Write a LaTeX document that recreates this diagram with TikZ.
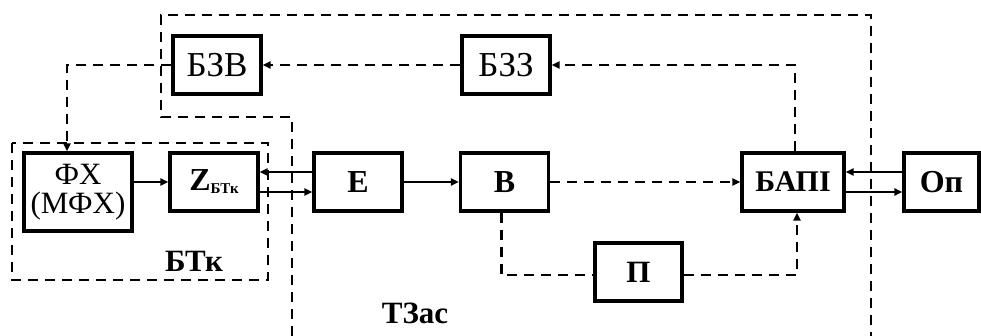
\documentclass[tikz,border=0pt]{standalone}
\usepackage{fontspec}
\setmainfont{Liberation Serif}
\usetikzlibrary{arrows.meta}
\begin{document}
\begin{tikzpicture}[x=1pt,y=-1pt,
  blk/.style={draw, line width=3.1pt, minimum width=88pt, minimum height=58pt, inner sep=0pt, align=center},
  dsh/.style={line width=2.5pt, dash pattern=on 10pt off 7pt},
  arr/.style={line width=2.1pt, -{Triangle[length=8pt,width=7pt]}},
  darr/.style={dsh, -{Triangle[length=8pt,width=7pt]}},
  txtn/.style={font=\fontsize{35}{35}\selectfont},
  txtb/.style={font=\fontsize{32}{32}\selectfont\bfseries}]
\useasboundingbox (0,0) rectangle (981,336);
% dashed boundaries
\draw[dsh] (12,143) rectangle (268,280);
\draw[dsh] (292,336) -- (292,117) -- (161,117) -- (161,15) -- (871,15) -- (871,336);
% blocks
\node[blk, txtn] (bzv) at (217,65) {БЗВ};
\node[blk, txtn] (bzz) at (506,65) {БЗЗ};
\node[blk, font=\fontsize{31}{29}\selectfont, minimum width=108pt, minimum height=78pt] (fx) at (78,192) {ФХ\\(МФХ)};
\node[blk] (z) at (214,182) {{\fontsize{32}{32}\selectfont\bfseries Z}\raisebox{-3pt}{\fontsize{15}{15}\selectfont\bfseries БТк}};
\node[blk, txtb] (e) at (358,182) {E};
\node[blk, txtb] (b) at (504.5,182) {B};
\node[blk, font=\fontsize{30}{30}\selectfont\bfseries, minimum width=102pt] (bapi) at (793,182) {БАПІ};
\node[blk, font=\fontsize{32}{32}\selectfont\bfseries, minimum width=75pt] (op) at (941.5,182) {Оп};
\node[blk, font=\fontsize{31}{31}\selectfont\bfseries, minimum width=87pt] (p) at (638.5,272) {П};
% labels
\node[font=\fontsize{31}{31}\selectfont\bfseries] (btk) at (194,261) {БТк};
\node[font=\fontsize{31}{31}\selectfont\bfseries] (tzas) at (415,313) {ТЗас};
% solid connectors
\draw[arr] (fx.east |- z.west) -- (z.west);
\draw[arr] ([yshift=10pt]e.west) -- ([yshift=10pt]z.east);
\draw[arr] ([yshift=-10pt]z.east) -- ([yshift=-10pt]e.west);
\draw[arr] (e.east) -- (b.west);
\draw[arr] ([yshift=10pt]op.west) -- ([yshift=10pt]bapi.east);
\draw[arr] ([yshift=-10pt]bapi.east) -- ([yshift=-10pt]op.west);
% dashed connectors
\draw[darr] (b.east) -- (bapi.west);
\draw[darr] ([xshift=2pt]bapi.north) |- (bzz.east);
\draw[darr] (bzz.west) -- (bzv.east);
\draw[darr] (bzv.west) -| ([xshift=-11pt]fx.north);
\draw[dsh] ([xshift=-3pt]b.south) |- ([yshift=-3pt]p.west);
\draw[darr] ([yshift=-3pt]p.east) -| ([xshift=4pt]bapi.south);
\end{tikzpicture}
\end{document}
